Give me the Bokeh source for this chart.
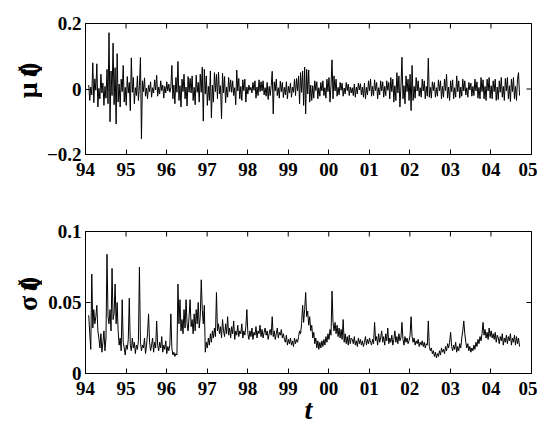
import numpy as np
from bokeh.plotting import figure
from bokeh.layouts import column, row
from bokeh.models import FixedTicker, Range1d
from bokeh.core.properties import value
from bokeh.embed import file_html
from bokeh.resources import INLINE

# ---- data ----
t_start, t_end = 94.08, 104.705
year_ticks = [94, 95, 96, 97, 98, 99, 100, 101, 102, 103, 104, 105]
year_labels = ["94", "95", "96", "97", "98", "99", "00", "01", "02", "03", "04", "05"]
mu_ticks = [-0.2, 0.0, 0.2]
mu_tick_labels = ["\u22120.2", "0", "0.2"]
sigma_ticks = [0.0, 0.05, 0.1]
sigma_tick_labels = ["0", "0.05", "0.1"]

mu = [
    0.012, -0.035, 0.006, -0.018, 0.080, -0.042, 0.031, -0.004, 0.077, -0.055,
    0.002, -0.030, 0.045, -0.012, 0.018, -0.050, 0.008, -0.028, 0.060, -0.045,
    0.172, -0.100, 0.055, -0.020, 0.140, -0.048, 0.065, -0.107, 0.108, -0.040,
    0.015, -0.055, 0.030, -0.008, 0.072, -0.040, 0.005, -0.050, 0.038, -0.012,
    0.020, -0.066, 0.095, -0.010, 0.035, -0.045, 0.004, -0.020, 0.040, -0.035,
    0.010, 0.096, -0.152, 0.025, -0.008, 0.034, -0.022, 0.003, -0.030, 0.012,
    -0.008, 0.022, -0.025, 0.004, -0.012, 0.028, -0.003, 0.042, -0.022, 0.006,
    -0.015, 0.025, -0.005, 0.012, -0.028, 0.008, -0.012, 0.022, -0.006, 0.015,
    -0.010, 0.004, 0.072, -0.030, 0.012, -0.045, 0.035, -0.010, 0.084, -0.035,
    0.010, -0.055, 0.030, -0.008, 0.045, -0.030, 0.006, -0.052, 0.038, -0.010,
    0.032, -0.012, 0.040, -0.035, 0.005, -0.048, 0.042, -0.010, 0.020, -0.040,
    0.045, -0.010, 0.067, -0.098, 0.060, -0.015, 0.040, -0.050, 0.008, -0.035,
    0.055, -0.088, 0.012, -0.040, 0.050, -0.008, 0.045, -0.030, 0.052, -0.015,
    0.010, -0.091, 0.048, -0.012, 0.038, -0.042, 0.006, -0.025, 0.035, -0.008,
    0.028, -0.010, 0.025, -0.020, 0.004, -0.048, 0.058, -0.006, 0.032, -0.030,
    0.008, -0.035, 0.028, -0.005, 0.030, -0.040, 0.006, -0.015, 0.012, -0.004,
    0.005, -0.012, 0.020, -0.004, 0.025, -0.028, 0.006, -0.020, 0.028, -0.008,
    0.022, -0.006, 0.025, -0.018, 0.004, -0.022, 0.020, -0.032, 0.008, -0.020,
    0.010, 0.054, -0.076, 0.022, -0.006, 0.030, -0.020, 0.004, -0.028, 0.024,
    -0.008, 0.020, -0.026, 0.005, -0.018, 0.022, -0.030, 0.008, -0.012, 0.018,
    -0.025, 0.006, -0.010, 0.030, -0.020, 0.032, -0.006, 0.040, -0.045, 0.050,
    -0.010, 0.055, -0.050, 0.067, -0.076, 0.060, -0.015, 0.058, -0.040, 0.012,
    -0.035, 0.010, -0.028, 0.025, -0.005, 0.022, -0.030, 0.004, -0.022, 0.020,
    -0.006, 0.025, -0.020, 0.004, -0.028, 0.030, -0.008, 0.035, -0.040, 0.010,
    0.089, -0.030, 0.040, -0.006, 0.030, -0.022, 0.005, -0.018, 0.020, -0.004,
    0.018, -0.022, 0.003, -0.015, 0.020, -0.005, 0.015, -0.020, 0.006, -0.012,
    0.004, -0.020, 0.015, -0.025, 0.006, -0.015, 0.018, -0.003, 0.016, -0.018,
    0.006, -0.025, 0.018, -0.030, 0.005, -0.018, 0.025, -0.006, 0.030, -0.022,
    0.008, -0.020, 0.028, -0.005, 0.020, -0.030, 0.004, -0.018, 0.025, -0.006,
    0.022, -0.025, 0.008, -0.020, 0.025, -0.004, 0.020, -0.030, 0.035, -0.008,
    0.030, -0.040, 0.010, -0.035, 0.050, -0.012, 0.040, -0.055, 0.008, 0.097,
    -0.030, 0.010, -0.045, 0.040, -0.008, 0.030, -0.035, 0.045, -0.066, 0.072,
    -0.035, 0.008, -0.028, 0.035, -0.006, 0.025, -0.022, 0.004, -0.025, 0.030,
    -0.006, 0.025, -0.030, 0.008, -0.022, 0.094, -0.025, 0.005, -0.028, 0.022,
    -0.005, 0.020, -0.025, 0.004, -0.022, 0.028, -0.006, 0.025, -0.030, 0.008,
    -0.025, 0.030, -0.005, 0.045, -0.028, 0.006, -0.035, 0.025, -0.008, 0.028,
    -0.030, 0.004, -0.025, 0.040, -0.008, 0.025, -0.028, 0.006, -0.022, 0.030,
    -0.006, 0.025, -0.018, 0.004, -0.025, 0.020, -0.003, 0.018, -0.022, 0.008,
    -0.020, 0.030, -0.006, 0.022, -0.028, 0.005, -0.030, 0.035, -0.008, 0.028,
    -0.030, 0.008, -0.035, 0.030, -0.006, 0.035, -0.028, 0.010, -0.030, 0.025,
    -0.008, 0.030, -0.035, 0.006, -0.032, 0.025, -0.010, 0.035, -0.025, 0.008,
    -0.035, 0.032, -0.006, 0.035, -0.030, 0.010, -0.038, 0.030, -0.008, 0.035,
    -0.030, 0.008, -0.035, 0.030, 0.050, -0.020,
]

sigma = [
    0.041, 0.028, 0.017, 0.070, 0.032, 0.045, 0.035, 0.040, 0.048, 0.030,
    0.025, 0.018, 0.028, 0.015, 0.022, 0.030, 0.016, 0.025, 0.084, 0.040,
    0.035, 0.045, 0.030, 0.074, 0.038, 0.042, 0.063, 0.035, 0.050, 0.030,
    0.020, 0.025, 0.016, 0.052, 0.022, 0.018, 0.013, 0.020, 0.017, 0.024,
    0.053, 0.020, 0.016, 0.025, 0.018, 0.022, 0.014, 0.020, 0.017, 0.023,
    0.075, 0.022, 0.016, 0.020, 0.018, 0.025, 0.014, 0.020, 0.028, 0.042,
    0.022, 0.016, 0.020, 0.025, 0.015, 0.022, 0.018, 0.037, 0.020, 0.016,
    0.022, 0.018, 0.026, 0.015, 0.020, 0.017, 0.023, 0.014, 0.019, 0.016,
    0.020, 0.042, 0.018, 0.013, 0.015, 0.012, 0.014, 0.013, 0.063, 0.035,
    0.052, 0.030, 0.038, 0.028, 0.045, 0.032, 0.052, 0.035, 0.030, 0.040,
    0.052, 0.033, 0.038, 0.028, 0.042, 0.030, 0.045, 0.035, 0.050, 0.032,
    0.040, 0.066, 0.045, 0.035, 0.048, 0.015, 0.022, 0.018, 0.025, 0.020,
    0.028, 0.022, 0.030, 0.025, 0.032, 0.026, 0.057, 0.030, 0.035, 0.028,
    0.033, 0.025, 0.038, 0.030, 0.026, 0.035, 0.028, 0.040, 0.027, 0.032,
    0.025, 0.033, 0.028, 0.037, 0.024, 0.030, 0.027, 0.034, 0.026, 0.030,
    0.028, 0.035, 0.025, 0.030, 0.027, 0.033, 0.045, 0.028, 0.024, 0.030,
    0.026, 0.032, 0.024, 0.029, 0.027, 0.033, 0.025, 0.030, 0.028, 0.034,
    0.026, 0.031, 0.025, 0.029, 0.032, 0.027, 0.030, 0.024, 0.028, 0.031,
    0.027, 0.040, 0.026, 0.030, 0.024, 0.028, 0.032, 0.025, 0.029, 0.027,
    0.031, 0.025, 0.028, 0.024, 0.022, 0.027, 0.020, 0.024, 0.021, 0.025,
    0.020, 0.023, 0.019, 0.025, 0.021, 0.024, 0.022, 0.026, 0.030, 0.028,
    0.035, 0.048, 0.036, 0.045, 0.057, 0.040, 0.044, 0.034, 0.040, 0.030,
    0.034, 0.025, 0.029, 0.021, 0.025, 0.018, 0.023, 0.017, 0.022, 0.018,
    0.023, 0.019, 0.024, 0.020, 0.026, 0.022, 0.028, 0.024, 0.031, 0.027,
    0.058, 0.036, 0.030, 0.036, 0.028, 0.034, 0.026, 0.032, 0.025, 0.031,
    0.024, 0.038, 0.022, 0.028, 0.021, 0.026, 0.020, 0.027, 0.021, 0.025,
    0.024, 0.021, 0.026, 0.020, 0.023, 0.019, 0.025, 0.021, 0.024, 0.020,
    0.023, 0.019, 0.022, 0.026, 0.020, 0.024, 0.021, 0.025, 0.022, 0.020,
    0.024, 0.021, 0.036, 0.023, 0.026, 0.020, 0.028, 0.022, 0.025, 0.030,
    0.022, 0.026, 0.020, 0.028, 0.023, 0.032, 0.021, 0.025, 0.022, 0.027,
    0.020, 0.024, 0.030, 0.022, 0.026, 0.021, 0.028, 0.023, 0.025, 0.036,
    0.024, 0.020, 0.026, 0.022, 0.025, 0.021, 0.023, 0.027, 0.040, 0.026,
    0.022, 0.025, 0.020, 0.023, 0.021, 0.024, 0.019, 0.022, 0.020, 0.023,
    0.019, 0.022, 0.018, 0.021, 0.020, 0.037, 0.019, 0.016, 0.018, 0.014,
    0.016, 0.012, 0.015, 0.011, 0.014, 0.012, 0.016, 0.013, 0.018, 0.015,
    0.017, 0.014, 0.019, 0.016, 0.021, 0.018, 0.022, 0.029, 0.019, 0.016,
    0.020, 0.017, 0.022, 0.015, 0.019, 0.016, 0.021, 0.018, 0.025, 0.030,
    0.037, 0.028, 0.022, 0.018, 0.021, 0.016, 0.019, 0.015, 0.018, 0.016,
    0.020, 0.017, 0.022, 0.019, 0.024, 0.021, 0.026, 0.023, 0.028, 0.036,
    0.027, 0.031, 0.025, 0.029, 0.024, 0.032, 0.026, 0.030, 0.025, 0.028,
    0.024, 0.029, 0.022, 0.027, 0.025, 0.021, 0.026, 0.023, 0.028, 0.020,
    0.025, 0.022, 0.027, 0.021, 0.026, 0.023, 0.028, 0.020, 0.025, 0.022,
    0.027, 0.020, 0.026, 0.021, 0.025, 0.019,
]

t = np.linspace(t_start, t_end, len(mu))

FONT = "Liberation Serif"
TICK_PX = "19px"
LABEL_PX = "28px"
X0, X1 = 94, 105
LAB_W = 42


def style(p, yticks, ylabels, xlabel=None):
    yhi = p.y_range.end
    p.xaxis.ticker = FixedTicker(ticks=year_ticks)
    p.yaxis.ticker = FixedTicker(ticks=yticks)
    p.xaxis.major_label_overrides = {k: v for k, v in zip(year_ticks, year_labels)}
    p.yaxis.major_label_overrides = {k: v for k, v in zip(yticks, ylabels)}
    for ax in (p.xaxis[0], p.yaxis[0]):
        ax.major_tick_in = 5
        ax.major_tick_out = 0
        ax.minor_tick_in = 0
        ax.minor_tick_out = 0
        ax.axis_line_color = "black"
        ax.major_tick_line_color = "black"
        ax.major_label_text_font = FONT
        ax.major_label_text_font_style = "bold"
        ax.major_label_text_font_size = TICK_PX
        ax.major_label_text_color = "black"
    p.yaxis.major_label_standoff = 4
    p.xaxis.major_label_standoff = 8
    if xlabel:
        p.xaxis.axis_label = xlabel
        p.xaxis.axis_label_text_font = FONT
        p.xaxis.axis_label_text_font_style = "bold italic"
        p.xaxis.axis_label_text_font_size = LABEL_PX
        p.xaxis.axis_label_text_color = "black"
        p.xaxis.axis_label_standoff = -4
    # mirrored tick marks on the top and right edges (clipped to the frame)
    p.scatter(x=year_ticks, y=[yhi] * len(year_ticks), marker="dash", angle=np.pi / 2,
              size=10, line_color="black", line_width=1)
    p.scatter(x=[X1] * len(yticks), y=yticks, marker="dash", angle=0,
              size=10, line_color="black", line_width=1)
    p.xgrid.visible = False
    p.ygrid.visible = False
    p.outline_line_color = "black"
    p.background_fill_color = "white"
    p.border_fill_color = "white"


def ylabel_fig(height, sym, y_start):
    """Narrow figure carrying the rotated label 'sym (t)' with an italic t."""
    q = figure(width=LAB_W, height=height, output_backend="svg", toolbar_location=None,
               x_range=Range1d(0, LAB_W), y_range=Range1d(0, height),
               x_axis_type=None, y_axis_type=None, min_border=0)
    q.outline_line_color = None
    q.grid.visible = False
    q.border_fill_color = "white"
    common = dict(angle=np.pi / 2, text_font=value(FONT), text_font_size=LABEL_PX,
                  text_color="black", text_baseline="middle", text_align="left")
    q.text(x=[27], y=[y_start], text=[sym + " ("], text_font_style="bold", **common)
    q.text(x=[27], y=[y_start + 32], text=["t"], text_font_style="bold italic", **common)
    q.text(x=[27], y=[y_start + 40.5], text=[")"], text_font_style="bold", **common)
    return q


p1 = figure(frame_width=446, frame_height=131, output_backend="svg", toolbar_location=None,
            x_range=Range1d(X0, X1), y_range=Range1d(-0.2, 0.2),
            min_border_left=85 - LAB_W, min_border_right=6, min_border_top=23,
            min_border_bottom=46)
p1.line(t, mu, line_color="black", line_width=1)
style(p1, mu_ticks, mu_tick_labels)
l1 = ylabel_fig(200, "\u03bc", 86)

p2 = figure(frame_width=446, frame_height=142, output_backend="svg", toolbar_location=None,
            x_range=Range1d(X0, X1), y_range=Range1d(0, 0.1),
            min_border_left=85 - LAB_W, min_border_right=6, min_border_top=31,
            min_border_bottom=50)
p2.line(t, sigma, line_color="black", line_width=1)
style(p2, sigma_ticks, sigma_tick_labels, xlabel="t")
l2 = ylabel_fig(223, "\u03c3", 94.5)

layout = column(row(l1, p1, spacing=0), row(l2, p2, spacing=0), spacing=0)
open("out.html", "w").write(file_html(layout, INLINE))
